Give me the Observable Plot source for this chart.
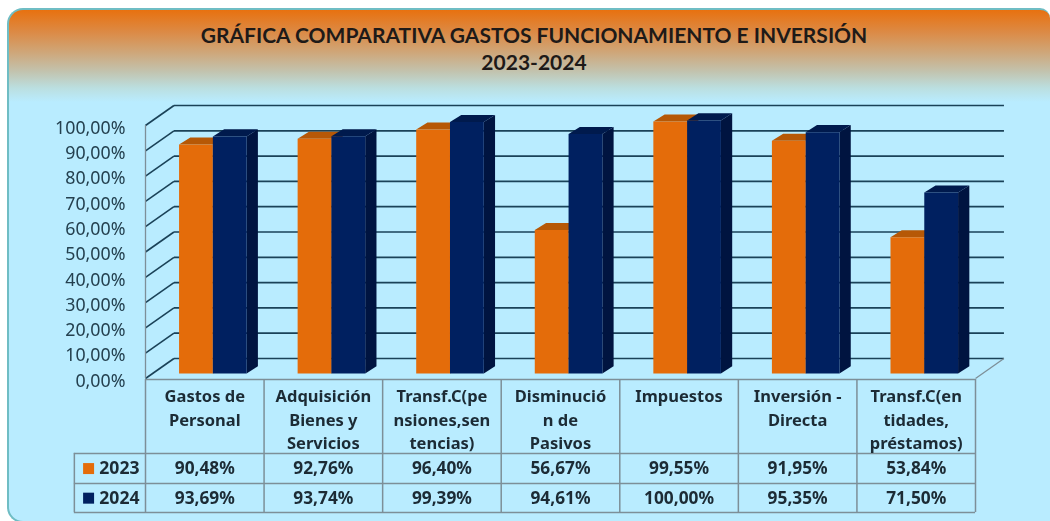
<!DOCTYPE html>
<html><head><meta charset="utf-8">
<script src="https://cdn.jsdelivr.net/npm/d3@7"></script>
<script src="https://cdn.jsdelivr.net/npm/@observablehq/plot@0.6"></script>
<style>
html,body{margin:0;padding:0;background:#fff;overflow:hidden}
#page{position:relative;width:1050px;height:521px;overflow:hidden}
#card{position:absolute;left:7px;top:8px;width:1043px;height:515px;box-sizing:border-box;border:2px solid #6fbdc4;border-right:none;border-radius:16px 10px 0 16px;
background:linear-gradient(to bottom,#e8710f 0,#dc8a45 22px,#cfa678 42px,#c2c4b0 62px,#bbdfe0 78px,#b9ecff 92px)}
#title{position:absolute;left:0;top:21px;width:1068px;text-align:center;font:700 21px/27px Lato,sans-serif;color:#1e1a18}
#chart{position:absolute;left:0;top:90px}
svg{background:transparent!important;filter:blur(.45px)}
</style></head><body>
<div id="page"><div id="card"></div>
<div id="title">GRÁFICA COMPARATIVA GASTOS FUNCIONAMIENTO E INVERSIÓN<br>2023-2024</div>
<div id="chart"></div></div>
<script>
const categories = ["Gastos de\nPersonal","Adquisición\nBienes y\nServicios","Transf.C(pe\nnsiones,sen\ntencias)","Disminució\nn de\nPasivos","Impuestos","Inversión -\nDirecta","Transf.C(en\ntidades,\npréstamos)"];
const years = ["2023","2024"];
const values2023 = [90.48,92.76,96.40,56.67,99.55,91.95,53.84];
const values2024 = [93.69,93.74,99.39,94.61,100.00,95.35,71.50];
const yTicks = [0,10,20,30,40,50,60,70,80,90,100];
const colors = {"2023":{front:"#e46c0a",top:"#b65806",side:"#a94f05"},"2024":{front:"#002060",top:"#001a4d",side:"#001440"}};

const fmt = v => v.toFixed(2).replace(".",",") + "%";
const ink = "#1c2b35", gridC = "#1a4258", tableC = "#7d8f98";
const depthX = 0.24, depthY = 7.9;          // wall depth, in scale units
const barDX = 0.095, barDY = 2.8;           // bar depth
const barStart = 0.283, barW = 0.285;       // within a slot
const low = 2;                              // bars stand slightly in front of the wall

const series = [values2023, values2024];
const polys = [];
series.forEach((vals,s)=>vals.forEach((v,i)=>{
  const x1=i+barStart+s*barW, x2=x1+barW, tv=v+low, k=years[s];
  const poly=(part,pts)=>pts.forEach(([x,y])=>polys.push({id:`${k}-${i}-${part}`,x,y,fill:colors[k][part]}));
  poly("side",[[x2,low],[x2+barDX,low+barDY],[x2+barDX,tv+barDY],[x2,tv]]);
  poly("top",[[x1,tv],[x1+barDX,tv+barDY],[x2+barDX,tv+barDY],[x2,tv]]);
  poly("front",[[x1,low],[x2,low],[x2,tv],[x1,tv]]);
}));
const groups = d3.groups(polys,d=>d.id);

const rowLines=[-0.4,-29.6,-41.5,-53];
const rowY=[-35.6,-47.3];
const catText=categories.map((c,i)=>({x:i+0.5,c}));
const cells=[];
years.forEach((yr,s)=>series[s].forEach((v,i)=>cells.push({x:i+0.5,y:rowY[s],t:fmt(v)})));
const legendRows=years.map((yr,s)=>({yr,y:rowY[s],color:colors[yr].front}));
const tFont="'Noto Sans',sans-serif";

const marks=[
  Plot.link(yTicks,{x1:7+depthX,x2:depthX,y1:d=>d+depthY,y2:d=>d+depthY,stroke:gridC,strokeWidth:1.7}),
  Plot.link(yTicks,{x1:0,x2:depthX,y1:d=>d,y2:d=>d+depthY,stroke:gridC,strokeWidth:1.6}),
  Plot.ruleX([0],{y1:0,y2:100,stroke:tableC,strokeWidth:1.3}),
  Plot.link([0],{x1:7,x2:7+depthX,y1:0,y2:depthY,stroke:tableC,strokeWidth:1.3}),
  ...groups.map(([id,pts])=>Plot.line(pts,{x:"x",y:"y",fill:pts[0].fill,stroke:"none",curve:"linear"})),
  Plot.ruleY(rowLines.slice(0,1),{x1:0,x2:7,stroke:tableC,strokeWidth:1.5}),
  Plot.ruleY(rowLines.slice(1),{x1:-0.6,x2:7,stroke:tableC,strokeWidth:1.5}),
  Plot.ruleX(d3.range(0,8),{y1:rowLines[0],y2:rowLines[3],stroke:tableC,strokeWidth:1.5}),
  Plot.ruleX([-0.6],{y1:rowLines[1],y2:rowLines[3],stroke:tableC,strokeWidth:1.5}),
  Plot.text(catText,{x:"x",y:-3,text:"c",lineAnchor:"top",lineHeight:1.4,fontSize:16.5,fontWeight:700,fontFamily:tFont,fill:ink}),
  Plot.text(cells,{x:"x",y:"y",text:"t",fontSize:17.3,fontWeight:700,fontFamily:tFont,fill:ink}),
  Plot.dot(legendRows,{x:-0.48,y:"y",symbol:"square",r:6.2,fill:"color",stroke:"none"}),
  Plot.text(legendRows,{x:-0.39,y:"y",text:"yr",textAnchor:"start",fontSize:17.6,fontWeight:700,fontFamily:tFont,fill:ink}),
  Plot.axisY(yTicks,{tickSize:0,tickPadding:20,tickFormat:fmt,fontSize:17.8,fontFamily:tFont,color:"#24404f",label:null,anchor:"left",dy:2.5})
];
const chart=Plot.plot({
  width:1050,height:431,marginLeft:145,marginRight:75,marginTop:35,marginBottom:143,
  style:{background:"transparent",overflow:"visible"},
  x:{domain:[0,7],axis:null},
  y:{domain:[0,100]},
  marks
});
document.getElementById("chart").append(chart);
</script></body></html>
